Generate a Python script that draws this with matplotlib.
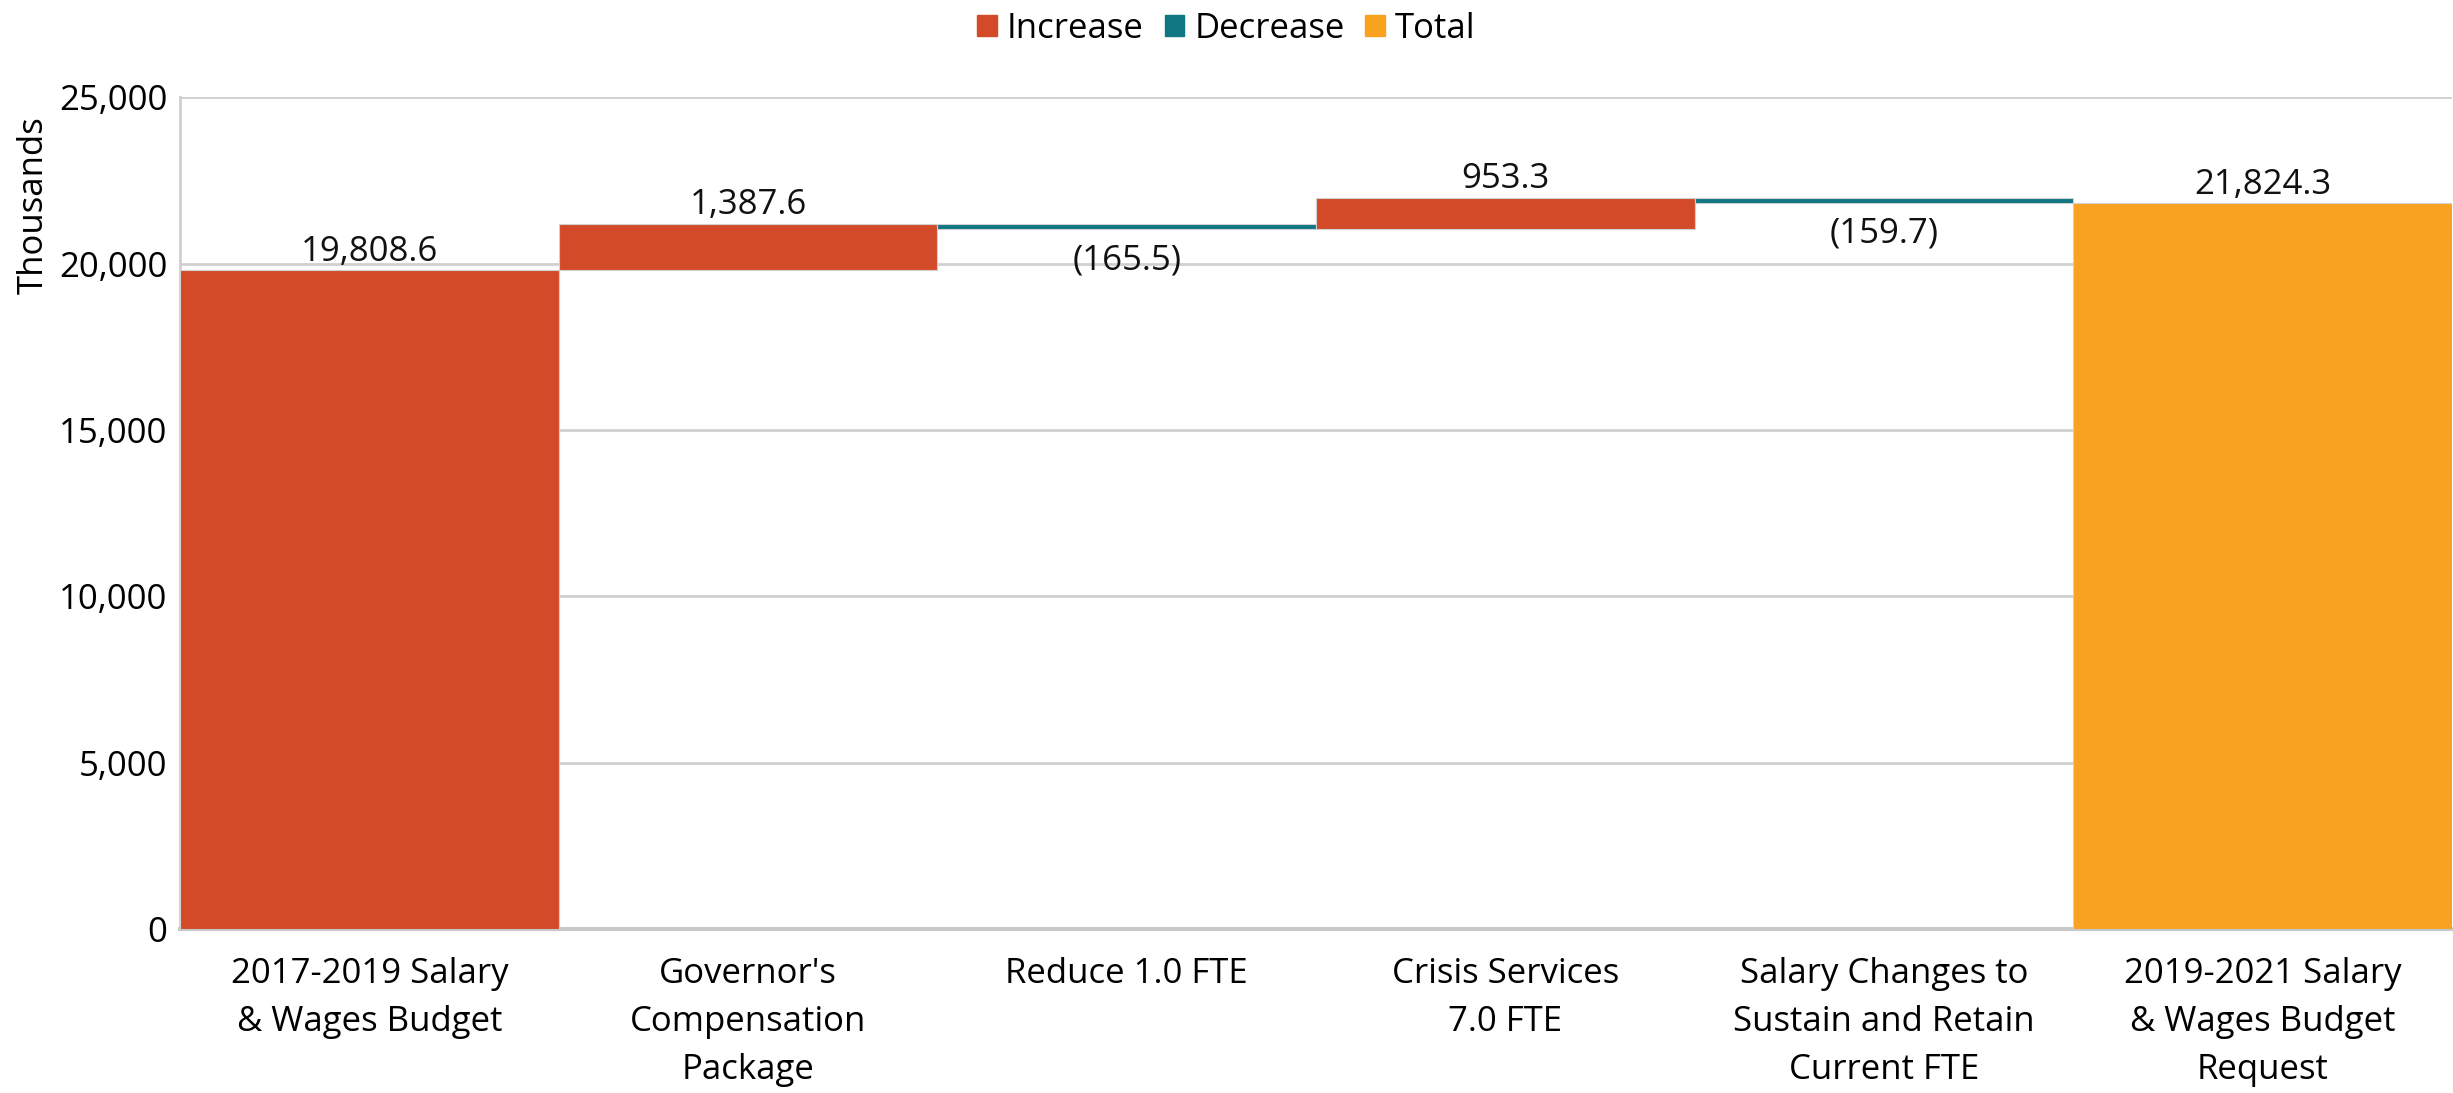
import matplotlib
matplotlib.use("Agg")
import matplotlib.pyplot as plt
from matplotlib.patches import Patch

plt.rcParams['font.family'] = ['Open Sans', 'DejaVu Sans']

categories = ["2017-2019 Salary\n& Wages Budget", "Governor's\nCompensation\nPackage",
              "Reduce 1.0 FTE", "Crisis Services\n7.0 FTE",
              "Salary Changes to\nSustain and Retain\nCurrent FTE",
              "2019-2021 Salary\n& Wages Budget\nRequest"]
values = [19808.6, 1387.6, -165.5, 953.3, -159.7, 21824.3]
kinds = ["start", "inc", "dec", "inc", "dec", "total"]
labels = ["19,808.6", "1,387.6", "(165.5)", "953.3", "(159.7)", "21,824.3"]
yticks = [0, 5000, 10000, 15000, 20000, 25000]
ytick_labels = ["0", "5,000", "10,000", "15,000", "20,000", "25,000"]

c_inc = "#D34A28"
c_dec = "#0F7682"
c_tot = "#F9A21F"

FS = 25

fig = plt.figure(figsize=(24.53, 10.93), dpi=100)
ax = fig.add_axes([0.0734, 0.150, 0.9262, 0.761])

running = 0.0
for i, (v, k, lab) in enumerate(zip(values, kinds, labels)):
    if k in ("start", "total"):
        bottom, height = 0, v
        running = v
        col = c_inc if k == "start" else c_tot
    elif k == "inc":
        bottom, height = running, v
        running += v
        col = c_inc
    else:
        bottom, height = running + v, -v
        running += v
        col = c_dec
    ax.bar(i, height, bottom=bottom, width=1.0, color=col, edgecolor="#D0D0D0",
           linewidth=0.8, zorder=3)
    if k == "dec":
        ax.annotate(lab, (i, bottom), xytext=(0, -10), textcoords="offset points",
                    ha="center", va="top", fontsize=FS, color="#111111")
    else:
        ax.annotate(lab, (i, bottom + height), xytext=(0, 1), textcoords="offset points",
                    ha="center", va="bottom", fontsize=FS, color="#111111")

ax.set_xlim(-0.5, len(values) - 0.5)
ax.set_ylim(0, 25000)
ax.set_yticks(yticks)
ax.set_yticklabels(ytick_labels, fontsize=FS)
ax.set_xticks(range(len(categories)))
ax.set_xticklabels(categories, fontsize=FS, linespacing=1.55)
ax.tick_params(axis='y', length=0, pad=9)
ax.tick_params(axis='x', length=0, pad=20)
ax.yaxis.grid(True, color="#D0D0D0", linewidth=2, zorder=0)
ax.set_axisbelow(True)
for s in ("top", "right"):
    ax.spines[s].set_visible(False)
ax.spines["left"].set_color("#D0D0D0")
ax.spines["left"].set_linewidth(2)
ax.spines["bottom"].set_color("#C8C8C8")
ax.spines["bottom"].set_linewidth(3)
ax.set_ylabel("Thousands", fontsize=FS)
ax.yaxis.set_label_coords(-0.057, 0.87)

handles = [Patch(color=c_inc, label="Increase"), Patch(color=c_dec, label="Decrease"),
           Patch(color=c_tot, label="Total")]
fig.legend(handles=handles, loc="upper center", bbox_to_anchor=(0.5, 1.018), ncol=3,
           frameon=False, fontsize=FS, handlelength=0.55, handleheight=0.55,
           handletextpad=0.3, columnspacing=0.6)

fig.savefig("out.png", dpi=100)
